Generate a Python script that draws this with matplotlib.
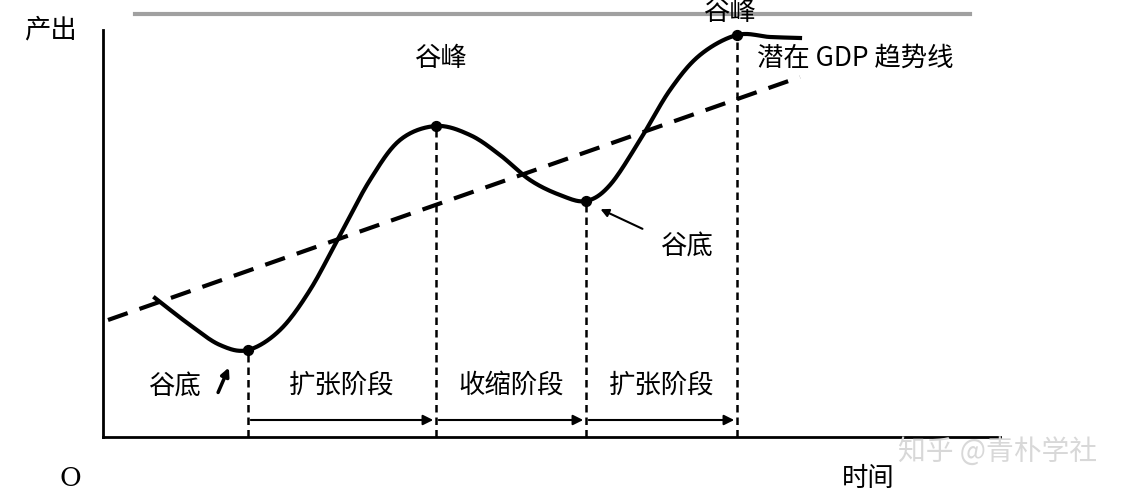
import numpy as np
import matplotlib
matplotlib.use("Agg")
import matplotlib.pyplot as plt

plt.rcParams['font.family'] = ['Noto Sans CJK SC', 'DejaVu Sans']

# curve (x, y) in picture units (y up)
curve_x = [155, 190, 220, 248, 280, 310, 340, 370, 400, 436, 470, 500, 530, 560, 586, 610, 640, 670, 700, 737, 770, 800]
curve_y = [200, 173, 153, 148, 168, 208, 263, 318, 358, 372, 363, 343, 318, 303, 297, 313, 358, 408, 443, 463, 461, 460]
trend_x = [108, 800]
trend_y = [178, 421]
key_x = [248, 436, 586, 737]
key_y = [148, 372, 297, 463]
phase_labels = ["扩张阶段", "收缩阶段", "扩张阶段"]

def catmull(xs, ys, n=20):
    P = np.column_stack([xs, ys]).astype(float)
    P = np.vstack([P[0], P, P[-1]])
    out = []
    for i in range(1, len(P) - 2):
        p0, p1, p2, p3 = P[i-1], P[i], P[i+1], P[i+2]
        for t in np.linspace(0, 1, n, endpoint=False):
            out.append(0.5 * ((2*p1) + (-p0+p2)*t + (2*p0-5*p1+4*p2-p3)*t**2 + (-p0+3*p1-3*p2+p3)*t**3))
    out.append(P[-2])
    return np.array(out)

fig = plt.figure(figsize=(11.45, 4.98), dpi=100)
ax = fig.add_axes([0, 0, 1, 1])
ax.set_xlim(0, 1145); ax.set_ylim(0, 498); ax.axis('off')

ax.plot([103, 103], [61, 468], color='black', lw=2)
ax.plot([103, 1000], [61, 61], color='black', lw=2)
ax.plot([135, 970], [484, 484], color='#888888', lw=3, alpha=0.8)

c = catmull(curve_x, curve_y)
ax.plot(c[:, 0], c[:, 1], color='black', lw=3)
ax.plot(trend_x, trend_y, color='black', lw=3, ls=(0, (5, 3)))
ax.scatter(key_x, key_y, color='black', s=50, zorder=5)
for x, y in zip(key_x, key_y):
    ax.plot([x, x], [61, y], color='black', lw=1.8, ls=(0, (3, 2)))
fs = 19
for i in range(3):
    ax.annotate('', xy=(key_x[i+1], 78), xytext=(key_x[i], 78),
                arrowprops=dict(arrowstyle='-|>', color='black', lw=1.5, mutation_scale=15))
    ax.text((key_x[i] + key_x[i+1]) / 2, 113, phase_labels[i], ha='center', va='center', fontsize=fs)

ax.text(50, 468, "产出", ha='center', va='center', fontsize=fs)
ax.text(70, 20, "O", ha='center', va='center', fontsize=fs, family='DejaVu Serif')
ax.text(868, 20, "时间", ha='center', va='center', fontsize=fs)
ax.text(441, 440, "谷峰", ha='center', va='center', fontsize=fs)
ax.text(730, 486, "谷峰", ha='center', va='center', fontsize=fs)
ax.text(757, 440, "潜在 GDP 趋势线", ha='left', va='center', fontsize=fs)
ax.text(687, 252, "谷底", ha='center', va='center', fontsize=fs)
ax.annotate('', xy=(598, 290), xytext=(645, 268),
            arrowprops=dict(arrowstyle='-|>', color='black', lw=1.5, mutation_scale=12))
ax.text(175, 112, "谷底", ha='center', va='center', fontsize=fs)
ax.annotate('', xy=(230, 133), xytext=(217, 103),
            arrowprops=dict(arrowstyle='-|>', color='black', lw=2.5, mutation_scale=12))
ax.text(997, 45, "知乎 @青朴学社", ha='center', va='center', fontsize=20, color='#d8d8d8')

fig.savefig("out.png", dpi=100, facecolor='white')
